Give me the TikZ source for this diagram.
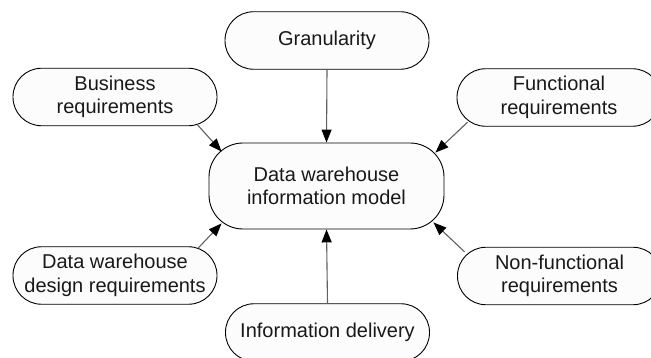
\documentclass[tikz,border=0pt]{standalone}
\usepackage{fontspec}
\setmainfont{Liberation Sans}
\usetikzlibrary{arrows.meta}
\begin{document}
\begin{tikzpicture}[x=1pt,y=-1pt,
  box/.style={draw=black, line width=0.9pt, fill=black!1, rounded corners=28.5pt,
    minimum width=204pt, minimum height=57.5pt, inner sep=0pt, align=center,
    text=black!90, font=\fontsize{20}{23.5}\selectfont},
  mainbox/.style={box, minimum width=235pt, minimum height=86pt, rounded corners=34pt},
  conn/.style={draw=black!62, line width=1.1pt,
    -{Triangle[length=13pt,width=10pt,color=black]}}]
\fill[white] (0,0) rectangle (651,358);
\clip (0,0) rectangle (651,358);
\node[box] (gran) at (327,40.5) {Granularity};
\node[box] (biz) at (115,97) {Business\\requirements};
\node[box] (func) at (559,97.5) {Functional\\requirements};
\node[mainbox] (m) at (326.5,186) {Data warehouse\\information model};
\node[box] (des) at (115,275.5) {Data warehouse\\design requirements};
\node[box] (nf) at (559.5,276) {Non-functional\\requirements};
\node[box] (info) at (327.5,332.5) {Information delivery};
\draw[conn] (gran.south) -- (m.north);
\draw[conn] ([xshift=-20pt,yshift=1.4pt]biz.south east) -- ([xshift=13pt,yshift=-9pt]m.north west);
\draw[conn] ([xshift=11pt,yshift=4.5pt]func.south west) -- ([xshift=-9pt,yshift=-10pt]m.north east);
\draw[conn] ([xshift=-19pt,yshift=-1.5pt]des.north east) -- ([xshift=13pt,yshift=6pt]m.south west);
\draw[conn] ([xshift=7.5pt,yshift=-5pt]nf.north west) -- ([xshift=-11pt,yshift=7pt]m.south east);
\draw[conn] (info.north) -- (m.south);
\end{tikzpicture}
\end{document}
